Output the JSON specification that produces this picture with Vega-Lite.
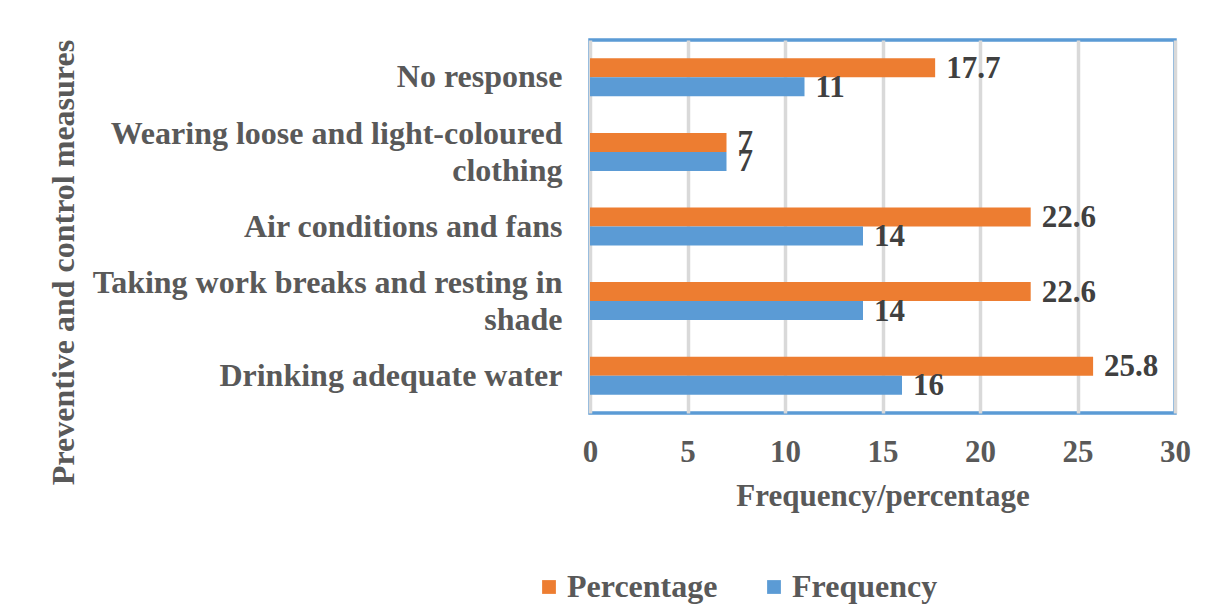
{
  "$schema": "https://vega.github.io/schema/vega-lite/v6.json",
  "autosize": {"type": "none"},
  "width": 585,
  "height": 373,
  "padding": {"left": 590, "top": 40, "right": 43, "bottom": 199},
  "background": "white",
  "config": {
    "font": "Liberation Serif",
    "view": {"stroke": "#5b9bd5", "strokeWidth": 3.5}
  },
  "data": {
    "values": [
      {"measure": "No response", "series": "Percentage", "value": 17.7},
      {"measure": "No response", "series": "Frequency", "value": 11},
      {"measure": "Wearing loose and light-coloured|clothing", "series": "Percentage", "value": 7},
      {"measure": "Wearing loose and light-coloured|clothing", "series": "Frequency", "value": 7},
      {"measure": "Air conditions and fans", "series": "Percentage", "value": 22.6},
      {"measure": "Air conditions and fans", "series": "Frequency", "value": 14},
      {"measure": "Taking work breaks and resting in|shade", "series": "Percentage", "value": 22.6},
      {"measure": "Taking work breaks and resting in|shade", "series": "Frequency", "value": 14},
      {"measure": "Drinking adequate water", "series": "Percentage", "value": 25.8},
      {"measure": "Drinking adequate water", "series": "Frequency", "value": 16}
    ]
  },
  "encoding": {
    "y": {
      "field": "measure",
      "type": "nominal",
      "sort": null,
      "scale": {"paddingInner": 0.49, "paddingOuter": 0.245},
      "axis": {
        "title": "Preventive and control measures",
        "titleFont": "Liberation Serif",
        "titleFontSize": 32,
        "titleFontWeight": "bold",
        "titleColor": "#595959",
        "titleX": -527,
        "titleY": 222,
        "titleAngle": -90,
        "titleAlign": "center",
        "titleBaseline": "middle",
        "labelExpr": "split(datum.label, '|')",
        "labelOffset": {"condition": {"test": "indexof(datum.value, '|') >= 0", "value": -18}, "value": 0},
        "labelFont": "Liberation Serif",
        "labelFontSize": 32,
        "labelFontWeight": "bold",
        "labelColor": "#595959",
        "labelLineHeight": 37,
        "labelLimit": 700,
        "labelPadding": 28,
        "ticks": false,
        "domain": false,
        "grid": false
      }
    },
    "yOffset": {
      "field": "series",
      "type": "nominal",
      "sort": ["Percentage", "Frequency"],
      "scale": {"domain": ["Percentage", "Frequency"], "paddingInner": 0, "paddingOuter": 0}
    },
    "x": {
      "field": "value",
      "type": "quantitative",
      "scale": {"domain": [0, 30], "nice": false},
      "axis": {
        "title": "Frequency/percentage",
        "titleFont": "Liberation Serif",
        "titleFontSize": 31,
        "titleFontWeight": "bold",
        "titleColor": "#595959",
        "titlePadding": 14,
        "values": [0, 5, 10, 15, 20, 25, 30],
        "labelFont": "Liberation Serif",
        "labelFontSize": 31,
        "labelFontWeight": "bold",
        "labelColor": "#595959",
        "labelPadding": 24,
        "labelFlush": false,
        "ticks": false,
        "domain": false,
        "grid": true,
        "gridColor": "#d9d9d9",
        "gridWidth": 3.5
      }
    }
  },
  "layer": [
    {
      "mark": {"type": "bar"},
      "encoding": {
        "color": {
          "field": "series",
          "type": "nominal",
          "scale": {"domain": ["Percentage", "Frequency"], "range": ["#ed7d31", "#5b9bd5"]},
          "legend": {
            "title": null,
            "orient": "none",
            "direction": "horizontal",
            "legendX": -57,
            "legendY": 531,
            "symbolType": "square",
            "symbolSize": 190,
            "symbolStrokeWidth": 0,
            "labelFont": "Liberation Serif",
            "labelFontSize": 32,
            "labelFontWeight": "bold",
            "labelColor": "#595959",
            "labelOffset": 2,
            "columnPadding": 40,
            "labelLimit": 300
          }
        }
      }
    },
    {
      "mark": {
        "type": "text",
        "align": "left",
        "baseline": "middle",
        "dx": 11,
        "dy": 1,
        "font": "Liberation Serif",
        "fontSize": 31,
        "fontWeight": "bold",
        "color": "#404040"
      },
      "encoding": {
        "text": {"field": "value", "type": "quantitative", "format": "~g"}
      }
    }
  ]
}
